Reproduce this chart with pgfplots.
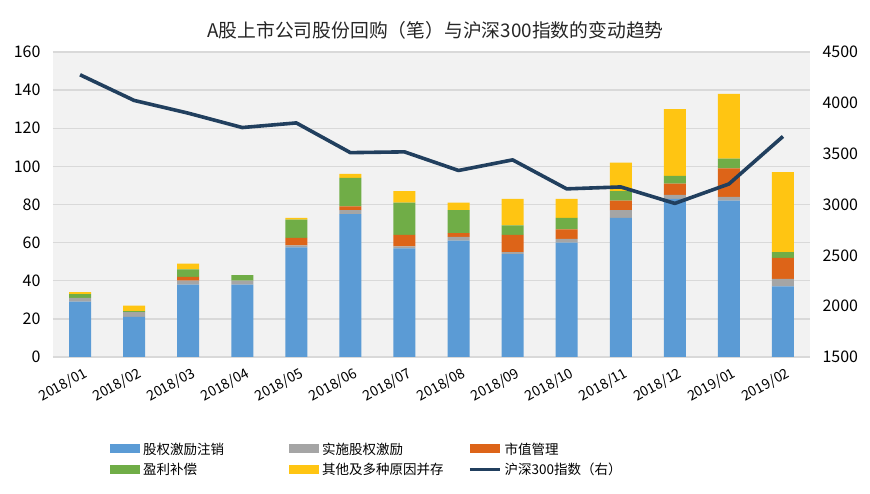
\documentclass[border=0pt]{standalone}
\usepackage{fontspec}
\setmainfont{Noto Sans CJK SC}
\usepackage{pgfplots}
\pgfplotsset{compat=1.18}
\definecolor{cBlue}{HTML}{5B9BD5}
\definecolor{cGray}{HTML}{A5A5A5}
\definecolor{cOrange}{HTML}{DD6418}
\definecolor{cGreen}{HTML}{70AD47}
\definecolor{cYellow}{HTML}{FFC512}
\definecolor{cLine}{HTML}{213F5E}
\definecolor{cGrid}{HTML}{D9D9D9}
\definecolor{cBg}{HTML}{F2F2F2}
\pgfplotsset{
  mybar/.style={fill=#1, draw=none, legend image code/.code={\fill[#1] (0pt,-5pt) rectangle (30pt,4pt);}},
  lineleg/.style={legend image code/.code={\draw[cLine, line width=3.5pt] (0pt,-0.5pt) -- (30pt,-0.5pt);}},
}
\begin{document}
\begin{tikzpicture}[x=1pt,y=1pt]
\fill[white] (-53,-137) rectangle (817,357);
\useasboundingbox (-53,-137) rectangle (817,357);
\begin{axis}[
  at={(0pt,0pt)}, anchor=south west,
  scale only axis, width=757pt, height=305pt,
  axis background/.style={fill=cBg},
  ybar stacked, bar width=22pt,
  xmin=-0.5, xmax=13.5, ymin=0, ymax=160,
  xtick={0,...,13},
  xticklabels={2018/01,2018/02,2018/03,2018/04,2018/05,2018/06,2018/07,2018/08,2018/09,2018/10,2018/11,2018/12,2019/01,2019/02},
  x tick label style={rotate=29, anchor=north east, font=\fontsize{14}{16}\selectfont, xshift=1pt, yshift=-6pt},
  ytick={0,20,...,160},
  yticklabel style={font=\fontsize{16}{18}\selectfont, xshift=-9pt},
  /pgf/number format/assume math mode=true,
  ymajorgrids, grid style={cGrid, line width=1.3pt},
  axis line style={draw=none},
  tick style={draw=none},
  title={A股上市公司股份回购（笔）与沪深300指数的变动趋势},
  title style={at={(0.5,1)}, anchor=center, yshift=16pt, xshift=4pt, font=\fontsize{18.8}{20}\selectfont, color=black!85},
  legend columns=3,
  legend style={at={(0.0753,-0.28)}, anchor=north west, draw=none, fill=none, inner sep=0pt,
    font=\fontsize{13.5}{14}\selectfont, row sep=9pt,
    nodes={text width=146pt, align=left, inner sep=0pt, text depth=0pt},
    /tikz/every odd column/.append style={column sep=3pt}},
]
\addplot+[mybar=cBlue] coordinates {(0,29) (1,21) (2,38) (3,38) (4,57.5) (5,75) (6,57) (7,61) (8,54) (9,60) (10,73) (11,83) (12,82) (13,37)};
\addplot+[mybar=cGray] coordinates {(0,2) (1,2.5) (2,2) (3,2) (4,1) (5,2) (6,1) (7,2) (8,1) (9,2) (10,4) (11,2) (12,2) (13,4)};
\addplot+[mybar=cOrange] coordinates {(0,0) (1,0) (2,2) (3,0) (4,4) (5,2) (6,6) (7,2) (8,9) (9,5) (10,5) (11,6) (12,15) (13,11)};
\addplot+[mybar=cGreen] coordinates {(0,2) (1,0.5) (2,4) (3,3) (4,9.5) (5,15) (6,17) (7,12) (8,5) (9,6) (10,5) (11,4) (12,5) (13,3)};
\addplot+[mybar=cYellow] coordinates {(0,1) (1,3) (2,3) (3,0) (4,1) (5,2) (6,6) (7,4) (8,14) (9,10) (10,15) (11,35) (12,34) (13,42)};
\addlegendentry{股权激励注销}
\addlegendentry{实施股权激励}
\addlegendentry{市值管理}
\addlegendentry{盈利补偿}
\addlegendentry{其他及多种原因并存}
\addlegendimage{lineleg}
\addlegendentry{沪深300指数（右）}
\end{axis}
\begin{axis}[
  at={(0pt,0pt)}, anchor=south west,
  scale only axis, width=757pt, height=305pt,
  xmin=-0.5, xmax=13.5, ymin=1500, ymax=4500,
  axis y line*=right, hide x axis,
  axis line style={draw=none}, tick style={draw=none},
  ytick={1500,2000,...,4500},
  yticklabel style={font=\fontsize{16}{18}\selectfont, xshift=9pt},
  /pgf/number format/assume math mode=true,
  /pgf/number format/1000 sep={},
]
\addplot[cLine, line width=3.6pt, line join=round, mark=none] coordinates {(0,4275.9) (1,4023.6) (2,3898.5) (3,3756.9) (4,3802.4) (5,3510.0) (6,3517.7) (7,3334.5) (8,3438.9) (9,3153.8) (10,3172.7) (11,3010.7) (12,3201.6) (13,3669.4)};
\end{axis}
\end{tikzpicture}
\end{document}
